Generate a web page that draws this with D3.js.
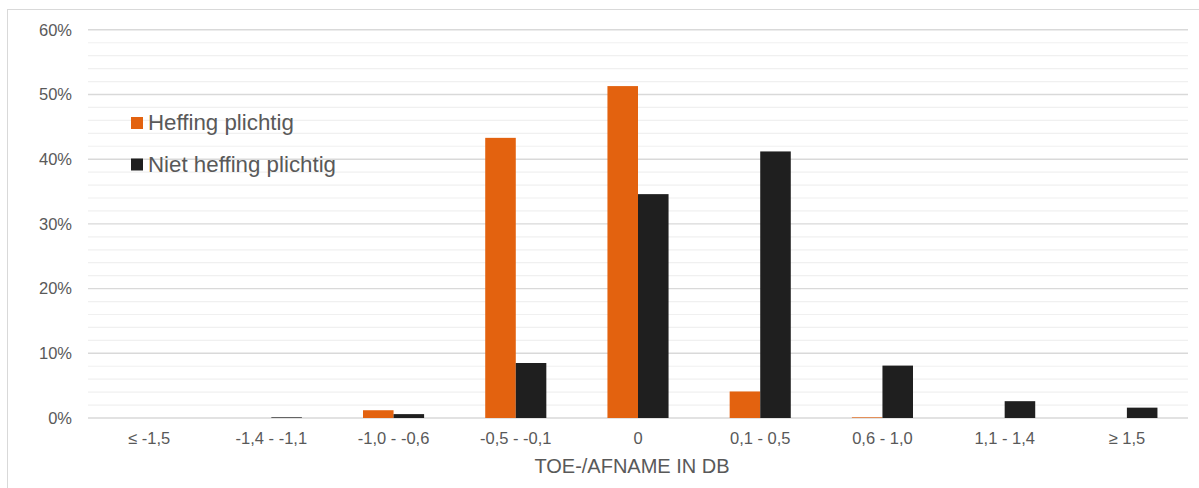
<!DOCTYPE html>
<html>
<head>
<meta charset="utf-8">
<script src="https://cdn.jsdelivr.net/npm/d3@7"></script>
<style>
html,body{margin:0;padding:0;background:#fff;}
svg{display:block;font-family:"Liberation Sans",Arial,sans-serif;}
</style>
</head>
<body>
<svg id="chart" width="1199" height="488"></svg>
<script>
const categories = ["≤ -1,5","-1,4 - -1,1","-1,0 - -0,6","-0,5 - -0,1","0","0,1 - 0,5","0,6 - 1,0","1,1 - 1,4","≥ 1,5"];
const seriesNames = ["Heffing plichtig","Niet heffing plichtig"];
const heffing = [0, 0, 1.2, 43.3, 51.3, 4.1, 0.1, 0, 0];
const nietHeffing = [0, 0.1, 0.6, 8.5, 34.6, 41.2, 8.1, 2.6, 1.6];
const seriesColors = ["#E3620F", "#1F1F1F"];
const yTicks = [0, 10, 20, 30, 40, 50, 60];
const yMinor = d3.range(0, 61, 2);
const xTitle = "TOE-/AFNAME IN DB";

const svg = d3.select("#chart");
const plotLeft = 88, plotRight = 1188, plotTop = 29.8, plotBottom = 418;

// frame
svg.append("rect").attr("x", 7.5).attr("y", 9.5).attr("width", 1200).attr("height", 500)
  .attr("fill", "none").attr("stroke", "#d9d9d9").attr("stroke-width", 1);

const x = d3.scaleBand().domain(categories).range([plotLeft, plotRight]).paddingInner(0).paddingOuter(0);
const y = d3.scaleLinear().domain([0, 60]).range([plotBottom, plotTop]);
const xs = d3.scaleBand().domain(seriesNames).range([x.bandwidth() * 0.25, x.bandwidth() * 0.75]);

// minor gridlines
svg.append("g").selectAll("line").data(yMinor.filter(v => v % 10 !== 0)).join("line")
  .attr("x1", plotLeft).attr("x2", plotRight)
  .attr("y1", d => y(d)).attr("y2", d => y(d))
  .attr("stroke", "#f0f0f0").attr("stroke-width", 1.2);

// major gridlines
svg.append("g").selectAll("line").data(yTicks).join("line")
  .attr("x1", plotLeft).attr("x2", plotRight)
  .attr("y1", d => y(d)).attr("y2", d => y(d))
  .attr("stroke", "#d9d9d9").attr("stroke-width", 1.4);

// y axis labels
const yAxis = d3.axisLeft(y).tickValues(yTicks).tickFormat(d => d + "%").tickSize(0).tickPadding(16);
const ga = svg.append("g").attr("transform", `translate(${plotLeft},0)`).call(yAxis);
ga.select(".domain").remove();
ga.selectAll("text").attr("font-size", 16.5).attr("fill", "#595959")
  .attr("font-family", "'Liberation Sans',Arial,sans-serif");

// bars
const data = categories.map((c, i) => ({c, vals: [heffing[i], nietHeffing[i]]}));
const groups = svg.append("g").selectAll("g").data(data).join("g")
  .attr("transform", d => `translate(${x(d.c)},0)`);
groups.selectAll("rect").data(d => d.vals.map((v, j) => ({v, s: seriesNames[j], j})))
  .join("rect")
  .attr("x", d => xs(d.s))
  .attr("width", xs.bandwidth())
  .attr("y", d => y(d.v))
  .attr("height", d => plotBottom - y(d.v))
  .attr("fill", d => seriesColors[d.j]);

// x axis labels
const xAxis = d3.axisBottom(x).tickSize(0).tickPadding(14);
const gx = svg.append("g").attr("transform", `translate(0,${plotBottom})`).call(xAxis);
gx.select(".domain").remove();
gx.selectAll("text").attr("font-size", 16.5).attr("fill", "#595959")
  .attr("font-family", "'Liberation Sans',Arial,sans-serif");

// x title
svg.append("text").attr("x", (plotLeft + plotRight) / 2 - 6).attr("y", 473)
  .attr("text-anchor", "middle").attr("font-size", 20).attr("fill", "#595959")
  .text(xTitle);

// legend
const legend = svg.append("g").selectAll("g").data(seriesNames).join("g")
  .attr("transform", (d, i) => `translate(131,${117 + i * 41.5})`);
legend.append("rect").attr("width", 12).attr("height", 12)
  .attr("fill", (d, i) => seriesColors[i]);
legend.append("text").attr("x", 17).attr("y", 13).attr("font-size", 22.3)
  .attr("fill", "#595959").text(d => d);
</script>
</body>
</html>
